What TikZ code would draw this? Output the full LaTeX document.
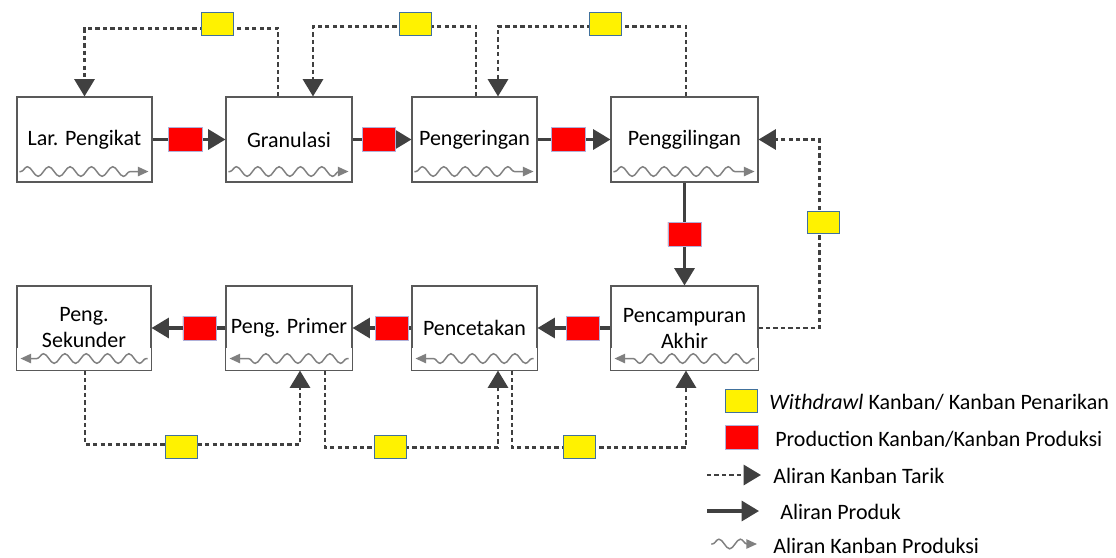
\documentclass[tikz,border=0pt]{standalone}
\usepackage{fontspec}
\setmainfont{Carlito}
\usetikzlibrary{arrows.meta,shapes.misc,decorations.pathmorphing,calc}

\definecolor{garis}{HTML}{404040}
\definecolor{tepi}{HTML}{595959}
\definecolor{biru}{HTML}{41719C}
\definecolor{ungu}{HTML}{B0B0D8}

\tikzset{
  proses/.style={draw=tepi, line width=0.8pt, fill=white, inner sep=0pt,
    align=center, font=\fontsize{16.5}{19.5}\selectfont},
  kartu/.style={chamfered rectangle, chamfered rectangle corners=north east,
    chamfered rectangle xsep=2.5pt, chamfered rectangle ysep=2.5pt,
    inner sep=0pt, line width=0.5pt},
  pk/.style={kartu, fill=red, draw=ungu, minimum width=25pt, minimum height=18pt},
  wk/.style={kartu, fill=yellow, draw=biru, line width=0.7pt, minimum width=24pt, minimum height=17pt},
  produk/.style={draw=garis, line width=2.3pt, -{Triangle[length=13pt,width=15pt]}},
  tarik/.style={draw=garis, line width=2.2pt, dash pattern=on 3.2pt off 2.4pt,
    -{Triangle[length=13pt,width=15pt]}},
  gelombang/.style={draw=gray, line width=1.1pt, decorate,
    decoration={snake, amplitude=3.6pt, segment length=16pt, pre length=1pt, post length=7pt}},
  ujung/.style={-{Triangle[length=8pt,width=7pt]}, gray, line width=1.1pt},
  teks/.style={inner sep=0pt, anchor=west, font=\fontsize{16.5}{19}\selectfont}
}

\begin{document}
\begin{tikzpicture}[x=0.75pt,y=-0.75pt]
  \useasboundingbox[fill=white] (0,0) rectangle (1116,557);

  % proses baris atas
  \node[proses, minimum width=101.25pt, minimum height=63.75pt] (lar) at (84.5,139.5) {Lar. Pengikat};
  \node[proses, minimum width=94.5pt, minimum height=63.75pt] (gran) at (289,139.5) {Granulasi};
  \node[proses, minimum width=93.75pt, minimum height=63.75pt] (kering) at (474.5,139.5) {Pengeringan};
  \node[proses, minimum width=110.25pt, minimum height=63.75pt] (giling) at (684.5,139.5) {Penggilingan};

  % proses baris bawah
  \node[proses, minimum width=100.5pt, minimum height=63pt] (sekunder) at (84,328) {Peng.\\Sekunder};
  \node[proses, minimum width=94.5pt, minimum height=63pt] (primer) at (289,328) {Peng. Primer};
  \node[proses, minimum width=93.75pt, minimum height=63pt] (cetak) at (474.5,328) {Pencetakan};
  \node[proses, minimum width=110.25pt, minimum height=63pt] (campur) at (684.5,328) {Pencampuran\\Akhir};

  % aliran kanban produksi di dalam kotak
  \foreach \b in {lar,gran,kering,giling}
    \draw[gelombang, ujung] ($(\b.south west)+(3,-11)$) -- ($(\b.south east)+(-4,-11)$);
  \foreach \b in {sekunder,primer,cetak,campur}{
    \fill[white] ($(\b.south west)+(1,-1)$) rectangle ($(\b.south east)+(-1,-23)$);
    \draw[gelombang, ujung] ($(\b.south east)+(-4,-12)$) -- ($(\b.south west)+(4,-12)$);
  }

  % aliran produk
  \draw[produk] (lar) -- node[pk, pos=0.45] (p1) {} (gran);
  \draw[produk] (gran) -- node[pk, pos=0.45] (p2) {} (kering);
  \draw[produk] (kering) -- node[pk, pos=0.42] (p3) {} (giling);
  \draw[produk] (giling) -- node[pk] (p4) {} (campur);
  \draw[produk] (campur) -- node[pk, pos=0.38] (p5) {} (cetak);
  \draw[produk] (cetak) -- node[pk, pos=0.33] (p6) {} (primer);
  \draw[produk] (primer) -- node[pk, pos=0.35] (p7) {} (sekunder);

  % aliran kanban tarik
  \draw[tarik] ($(gran.north)+(-11,0)$) -- ++(0,-68) -| (lar.north);
  \draw[tarik] ($(kering.north)+(1.5,0)$) -- ++(0,-70) -| ($(gran.north)+(24,0)$);
  \draw[tarik] ($(giling.north)+(1.5,0)$) -- ++(0,-70) -| ($(kering.north)+(23.5,0)$);
  \draw[tarik] (campur.east) -| ($(giling.east)+(61,0)$) -- (giling.east);
  \draw[tarik] ($(sekunder.south)+(1,0)$) -- ++(0,74) -| ($(primer.south)+(11,0)$);
  \draw[tarik] ($(primer.south)+(36,0)$) -- ++(0,77) -| ($(cetak.south)+(23.5,0)$);
  \draw[tarik] ($(cetak.south)+(37.5,0)$) -- ++(0,77) -| ($(campur.south)+(1.5,0)$);

  % kanban penarikan
  \node[wk] (w1) at (217.5,24) {};
  \node[wk] (w2) at (415,24) {};
  \node[wk] (w3) at (605,24) {};
  \node[wk] (w4) at (823,222.5) {};
  \node[wk] (w5) at (181,447) {};
  \node[wk] (w6) at (390,447) {};
  \node[wk] (w7) at (579.5,447) {};

  % keterangan
  \node[wk] (kw) at (741,401) {};
  \node[teks] (tw) at (769,402) {\textit{Withdrawl} Kanban/ Kanban Penarikan};
  \node[pk] (kp) at (742,437) {};
  \node[teks] (tp) at (775,439) {Production Kanban/Kanban Produksi};
  \coordinate (a1) at (707,475);
  \coordinate (a2) at (761,475);
  \draw[tarik] (a1) -- (a2);
  \node[teks] (tt) at (773,476) {Aliran Kanban Tarik};
  \coordinate (b1) at (707,511);
  \coordinate (b2) at (759,511);
  \draw[produk] (b1) -- (b2);
  \node[teks] (tr) at (780,512) {Aliran Produk};
  \coordinate (c1) at (711,544);
  \coordinate (c2) at (757,544);
  \draw[gelombang, ujung] (c1) -- (c2);
  \node[teks] (tg) at (773,546) {Aliran Kanban Produksi};
\end{tikzpicture}
\end{document}
